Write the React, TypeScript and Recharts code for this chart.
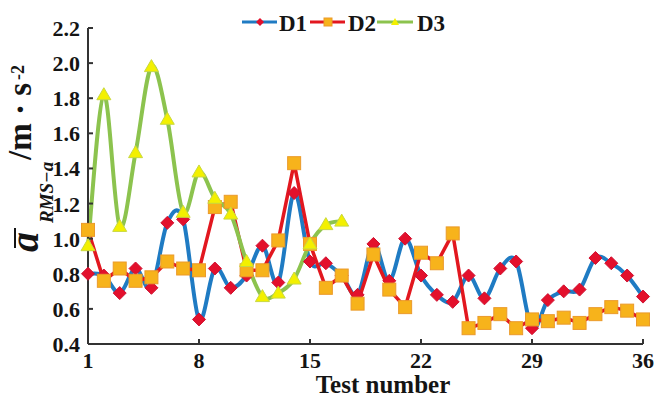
import { LineChart, Line, XAxis, YAxis, Legend } from "recharts";

const testNumbers = [
  1, 2, 3, 4, 5, 6, 7, 8, 9, 10, 11, 12, 13, 14, 15, 16, 17, 18, 19, 20, 21,
  22, 23, 24, 25, 26, 27, 28, 29, 30, 31, 32, 33, 34, 35, 36,
];

const d1Values = [
  0.8, 0.79, 0.69, 0.83, 0.72, 1.09, 1.11, 0.54, 0.83, 0.72, 0.79, 0.96, 0.75,
  1.26, 0.87, 0.86, 0.79, 0.68, 0.97, 0.76, 1.0, 0.79, 0.68, 0.64, 0.79, 0.66,
  0.83, 0.87, 0.49, 0.65, 0.7, 0.71, 0.89, 0.86, 0.79, 0.67,
];

const d2Values = [
  1.05, 0.76, 0.83, 0.76, 0.78, 0.87, 0.83, 0.82, 1.18, 1.21, 0.82, 0.82, 0.99,
  1.43, 0.97, 0.72, 0.79, 0.63, 0.91, 0.71, 0.61, 0.92, 0.86, 1.03, 0.49, 0.52,
  0.57, 0.49, 0.54, 0.53, 0.55, 0.52, 0.57, 0.61, 0.59, 0.54,
];

// D3 was only measured for the first 17 tests
const d3Values = [
  0.96, 1.82, 1.07, 1.49, 1.98, 1.68, 1.15, 1.38, 1.23, 1.14, 0.87, 0.67, 0.69,
  0.77, 0.97, 1.08, 1.1,
];

const xTicks = [1, 8, 15, 22, 29, 36];
const yTicks = [0.4, 0.6, 0.8, 1.0, 1.2, 1.4, 1.6, 1.8, 2.0, 2.2];

const data = testNumbers.map((t, i) => ({
  test: t,
  d1: d1Values[i],
  d2: d2Values[i],
  d3: i < d3Values.length ? d3Values[i] : null,
}));

const SERIF = '"Liberation Serif", "Times New Roman", serif';
const INK = "#141414";
const AXIS = "#333";

const BLUE = "#1f7bc3";
const RED = "#e2171f";
const GREEN = "#8cc34e";
const DIAMOND = "#e3102c";
const SQUARE = "#f7b31b";
const TRIANGLE = "#f3f000";

// Excel-like smoothed line (Catmull-Rom through every point)
const smoothCurve = (context: any) => {
  let pts: number[][] = [];
  return {
    areaStart() {},
    areaEnd() {},
    lineStart() {
      pts = [];
    },
    lineEnd() {
      if (!pts.length) return;
      context.moveTo(pts[0][0], pts[0][1]);
      if (pts.length === 1) {
        context.lineTo(pts[0][0], pts[0][1]);
        return;
      }
      for (let i = 0; i < pts.length - 1; i++) {
        const p0 = pts[i === 0 ? 0 : i - 1];
        const p1 = pts[i];
        const p2 = pts[i + 1];
        const p3 = pts[i + 2 < pts.length ? i + 2 : i + 1];
        context.bezierCurveTo(
          p1[0] + (p2[0] - p0[0]) / 6,
          p1[1] + (p2[1] - p0[1]) / 6,
          p2[0] - (p3[0] - p1[0]) / 6,
          p2[1] - (p3[1] - p1[1]) / 6,
          p2[0],
          p2[1]
        );
      }
    },
    point(x: number, y: number) {
      pts.push([+x, +y]);
    },
  };
};

const Diamond = (props: any) => {
  const { cx, cy } = props;
  if (cx == null || cy == null) return <g />;
  const r = 6.5;
  return (
    <path
      d={`M${cx},${cy - r}L${cx + r},${cy}L${cx},${cy + r}L${cx - r},${cy}Z`}
      fill={DIAMOND}
      stroke="#d01030"
      strokeWidth={1}
    />
  );
};

const Square = (props: any) => {
  const { cx, cy } = props;
  if (cx == null || cy == null) return <g />;
  const r = 6.5;
  return (
    <rect
      x={cx - r}
      y={cy - r}
      width={r * 2}
      height={r * 2}
      fill={SQUARE}
      stroke="#eb9a2a"
      strokeWidth={1}
    />
  );
};

const Triangle = (props: any) => {
  const { cx, cy } = props;
  if (cx == null || cy == null) return <g />;
  return (
    <path
      d={`M${cx},${cy - 7}L${cx + 7},${cy + 5}L${cx - 7},${cy + 5}Z`}
      fill={TRIANGLE}
      stroke="#c8d840"
      strokeWidth={1}
    />
  );
};

const XTick = (props: any) => (
  <text
    x={props.x}
    y={props.y + 15}
    textAnchor="middle"
    fontFamily={SERIF}
    fontWeight="bold"
    fontSize={22}
    fill={INK}
  >
    {props.payload.value}
  </text>
);

const YTick = (props: any) => (
  <text
    x={props.x}
    y={props.y + 8}
    textAnchor="end"
    fontFamily={SERIF}
    fontWeight="bold"
    fontSize={22}
    fill={INK}
  >
    {Number(props.payload.value).toFixed(1)}
  </text>
);

const renderLegend = () => (
  <div style={{ height: 22, position: "relative" }}>
    <svg
      width={658}
      height={22}
      style={{ position: "absolute", left: 0, top: 0, overflow: "visible" }}
    >
      <g transform="translate(0,-6)" fontFamily={SERIF} fontWeight="bold" fontSize={23} fill={INK}>
        <line x1={242} y1={22} x2={277} y2={22} stroke={BLUE} strokeWidth={3} />
        <path d="M260,18L264,22L260,26L256,22Z" fill={DIAMOND} />
        <text x={279} y={31}>D1</text>
        <line x1={310} y1={22} x2={345} y2={22} stroke={RED} strokeWidth={3} />
        <rect x={324} y={18} width={8} height={8} fill={SQUARE} stroke="#eb9a2a" />
        <text x={348} y={31}>D2</text>
        <line x1={377} y1={22} x2={413} y2={22} stroke={GREEN} strokeWidth={3} />
        <path d="M395,18L399,25L391,25Z" fill={TRIANGLE} />
        <text x={417} y={31}>D3</text>
      </g>
    </svg>
  </div>
);

const renderYLabel = () => (
  <g transform="translate(38,252) rotate(-90)" fill={INK} fontFamily={SERIF} fontWeight="bold">
    <line x1={4} y1={-23} x2={24} y2={-23} stroke={INK} strokeWidth={2} />
    <text>
      <tspan x={0} y={0} fontSize={40} fontStyle="italic">a</tspan>
      <tspan x={29} y={15} fontSize={19} fontStyle="italic">RMS−a</tspan>
      <tspan x={92} y={-7} fontSize={33}>/m · s</tspan>
      <tspan x={172} y={-14} fontSize={18}>-2</tspan>
    </text>
  </g>
);

const renderXLabel = () => (
  <text
    x={383}
    y={393}
    textAnchor="middle"
    fontFamily={SERIF}
    fontWeight="bold"
    fontSize={25}
    fill={INK}
  >
    Test number
  </text>
);

export default function App() {
  return (
    <div style={{ position: "absolute", left: 0, top: 0, background: "#fff" }}>
      <LineChart
        width={658}
        height={414}
        data={data}
        margin={{ top: 6, right: 15, bottom: 8, left: 28 }}
      >
        <Legend
          verticalAlign="top"
          content={renderLegend}
          wrapperStyle={{ left: 0, top: 6, width: 658 }}
        />
        <XAxis
          dataKey="test"
          type="number"
          domain={[1, 36]}
          ticks={xTicks}
          height={62}
          tick={XTick}
          tickSize={-5}
          tickMargin={14}
          axisLine={{ stroke: AXIS, strokeWidth: 2 }}
          tickLine={{ stroke: AXIS, strokeWidth: 2 }}
          label={renderXLabel}
        />
        <YAxis
          domain={[0.4, 2.2]}
          ticks={yTicks}
          width={60}
          tick={YTick}
          tickSize={-5}
          tickMargin={13}
          axisLine={{ stroke: AXIS, strokeWidth: 2 }}
          tickLine={{ stroke: AXIS, strokeWidth: 2 }}
          label={renderYLabel}
        />
        <Line
          dataKey="d1"
          name="D1"
          type={smoothCurve as any}
          stroke={BLUE}
          strokeWidth={4}
          dot={Diamond}
          activeDot={false}
          isAnimationActive={false}
        />
        <Line
          dataKey="d2"
          name="D2"
          type="linear"
          stroke={RED}
          strokeWidth={3.5}
          dot={Square}
          activeDot={false}
          isAnimationActive={false}
        />
        <Line
          dataKey="d3"
          name="D3"
          type={smoothCurve as any}
          stroke={GREEN}
          strokeWidth={4}
          dot={Triangle}
          activeDot={false}
          isAnimationActive={false}
        />
      </LineChart>
    </div>
  );
}
